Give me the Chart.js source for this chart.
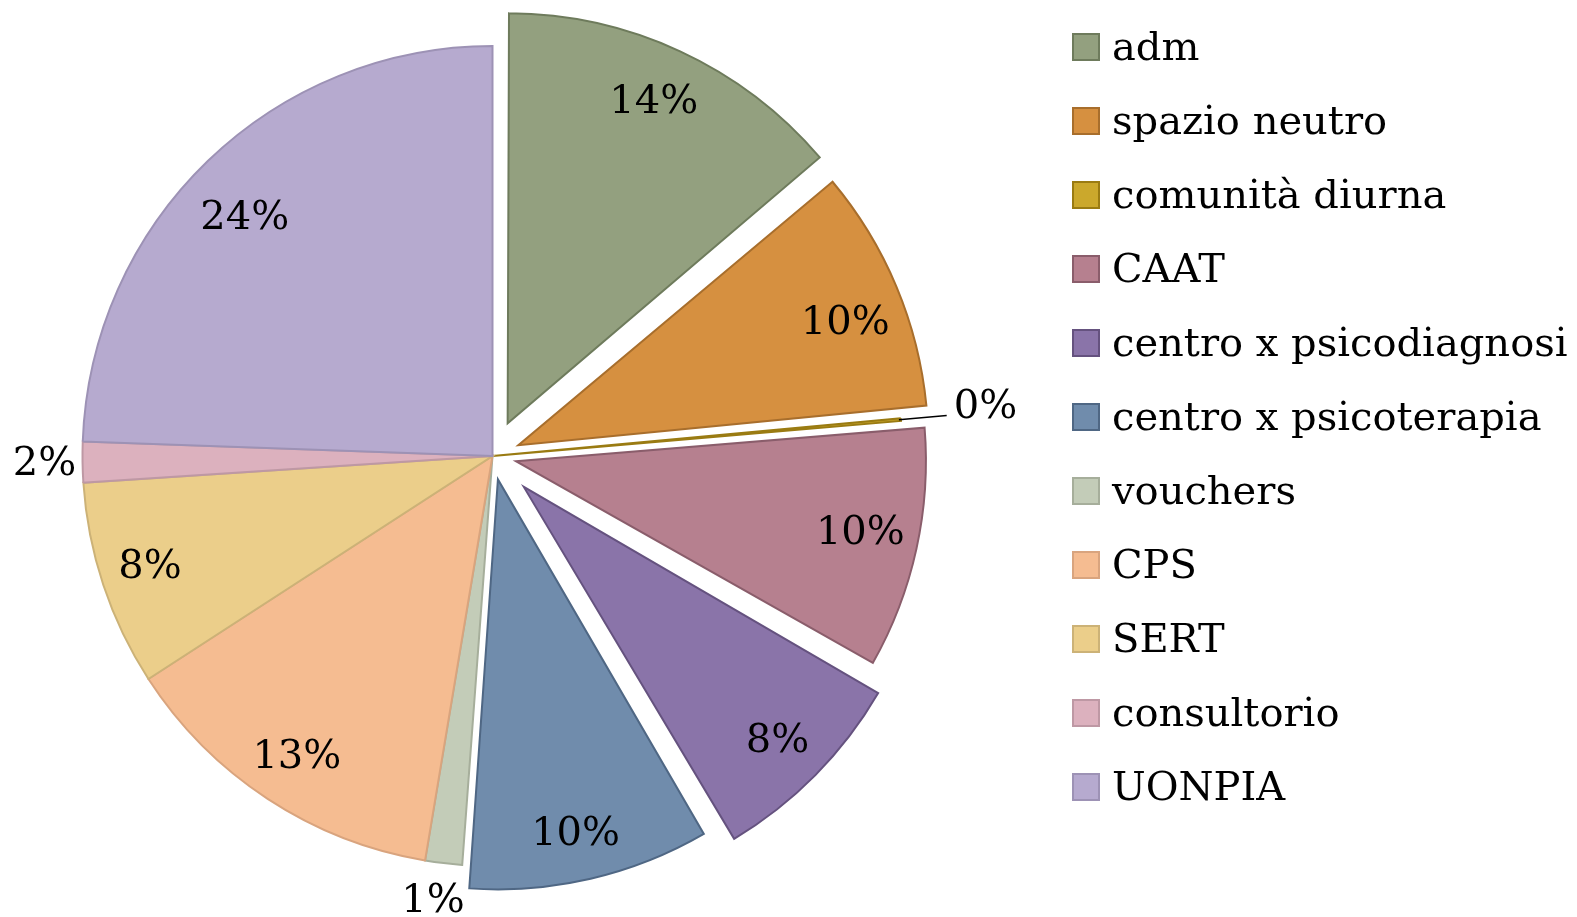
<!DOCTYPE html>
<html>
<head>
<meta charset="utf-8">
<script src="https://cdn.jsdelivr.net/npm/chart.js@4.4.0/dist/chart.umd.min.js"></script>
<style>
  html, body { margin: 0; padding: 0; background: #ffffff; }
  #wrap { width: 1577px; height: 917px; position: relative; }
</style>
</head>
<body>
<div id="wrap"><canvas id="c" width="1577" height="917"></canvas></div>
<script>
// ---- data ----
const categories = ['adm', 'spazio neutro', 'comunità diurna', 'CAAT', 'centro x psicodiagnosi',
  'centro x psicoterapia', 'vouchers', 'CPS', 'SERT', 'consultorio', 'UONPIA'];
const shares = [13.8, 9.7, 0.1, 9.6, 8.3, 9.6, 1.45, 13.2, 8.1, 1.6, 24.4];

// ---- style ----
const fillColors = ['#93A07F', '#D69040', '#CBA82C', '#B6808F', '#8A74A9', '#708CAC',
  '#C3CCB8', '#F5BC91', '#EBCE8A', '#DCB1BE', '#B6AACF'];
const edgeColors = ['#6E7B5C', '#A86E2C', '#9A7B12', '#8A5D6B', '#65527F', '#4F6784',
  '#A6AE9B', '#D9A47E', '#CCB277', '#BE98A4', '#9D92B5'];
const explodePx = [36, 28, 0, 24, 44, 24, 0, 0, 0, 0, 0];
const outsideLabel = [false, false, true, false, false, false, true, false, false, true, false];
// small hand nudges of the percentage labels (pixels)
const labelShiftX = [-4, -2, 3, -4, 0, -3, -6, 0, -4, 0, 0];
const labelShiftY = [3, 16, 2, -4, 4, 8, 1, 3, -1, 2, 19];
const RADIUS = 410;
const FONT = '"DejaVu Serif", "Liberation Serif", serif';
const FONT_SIZE = 40;

const total = shares.reduce((a, b) => a + b, 0);

// keep exploded slices at the same radius as the others
const radiusFix = {
  id: 'radiusFix',
  beforeDatasetsDraw(chart) {
    const meta = chart.getDatasetMeta(0);
    meta.data.forEach((arc) => {
      const off = (arc.options.offset || 0) / 4;
      const fix = 1 - Math.sin(Math.min(Math.PI, arc.circumference || 0));
      arc.outerRadius = RADIUS - off * fix;
    });
  }
};

const pctLabels = {
  id: 'pctLabels',
  afterDatasetsDraw(chart) {
    const ctx = chart.ctx;
    const meta = chart.getDatasetMeta(0);
    ctx.save();
    ctx.font = FONT_SIZE + 'px ' + FONT;
    ctx.fillStyle = '#000';
    meta.data.forEach((arc, i) => {
      const txt = Math.round(shares[i] / total * 100) + '%';
      const mid = (arc.startAngle + arc.endAngle) / 2;
      const ex = explodePx[i];
      const cx = arc.x + Math.cos(mid) * ex + labelShiftX[i];
      const cy = arc.y + Math.sin(mid) * ex + labelShiftY[i];
      if (!outsideLabel[i]) {
        const r = RADIUS * 0.87;
        ctx.textAlign = 'center';
        ctx.textBaseline = 'middle';
        ctx.fillText(txt, cx + Math.cos(mid) * r, cy + Math.sin(mid) * r);
      } else if (shares[i] / total < 0.005) {
        // leader line for a hair-thin slice
        const r1 = RADIUS - 2, r2 = RADIUS + 46;
        const x1 = arc.x + Math.cos(mid) * r1, y1 = arc.y + Math.sin(mid) * r1;
        const x2 = arc.x + Math.cos(mid) * r2, y2 = arc.y + Math.sin(mid) * r2;
        ctx.strokeStyle = '#000';
        ctx.lineWidth = 1.6;
        ctx.beginPath(); ctx.moveTo(x1, y1); ctx.lineTo(x2, y2); ctx.stroke();
        ctx.textAlign = 'left';
        ctx.textBaseline = 'middle';
        ctx.fillText(txt, x2 + 4 + labelShiftX[i], y2 - 10 + labelShiftY[i]);
      } else {
        const r = RADIUS + 38;
        ctx.textAlign = 'center';
        ctx.textBaseline = 'middle';
        ctx.fillText(txt, cx + Math.cos(mid) * r, cy + Math.sin(mid) * r);
      }
    });
    ctx.restore();
  }
};

const sideLegend = {
  id: 'sideLegend',
  afterDraw(chart) {
    const ctx = chart.ctx;
    ctx.save();
    ctx.font = FONT_SIZE + 'px ' + FONT;
    ctx.textAlign = 'left';
    ctx.textBaseline = 'alphabetic';
    categories.forEach((name, i) => {
      const top = 33 + 74 * i;
      ctx.fillStyle = fillColors[i];
      ctx.fillRect(1072, top, 28, 28);
      ctx.strokeStyle = edgeColors[i];
      ctx.lineWidth = 2;
      ctx.strokeRect(1073, top + 1, 26, 26);
      ctx.fillStyle = '#000';
      ctx.fillText(name, 1112, top + 27);
    });
    ctx.restore();
  }
};

new Chart(document.getElementById('c'), {
  type: 'pie',
  data: {
    labels: categories,
    datasets: [{
      data: shares,
      backgroundColor: fillColors,
      borderColor: edgeColors,
      borderWidth: 2,
      borderJoinStyle: 'miter',
      offset: explodePx.map(v => v * 4)
    }]
  },
  options: {
    responsive: false,
    animation: false,
    events: [],
    radius: RADIUS,
    layout: { padding: { left: 0, top: 0, right: 592, bottom: 5 } },
    plugins: {
      legend: { display: false },
      tooltip: { enabled: false }
    }
  },
  plugins: [radiusFix, pctLabels, sideLegend]
});
</script>
</body>
</html>
